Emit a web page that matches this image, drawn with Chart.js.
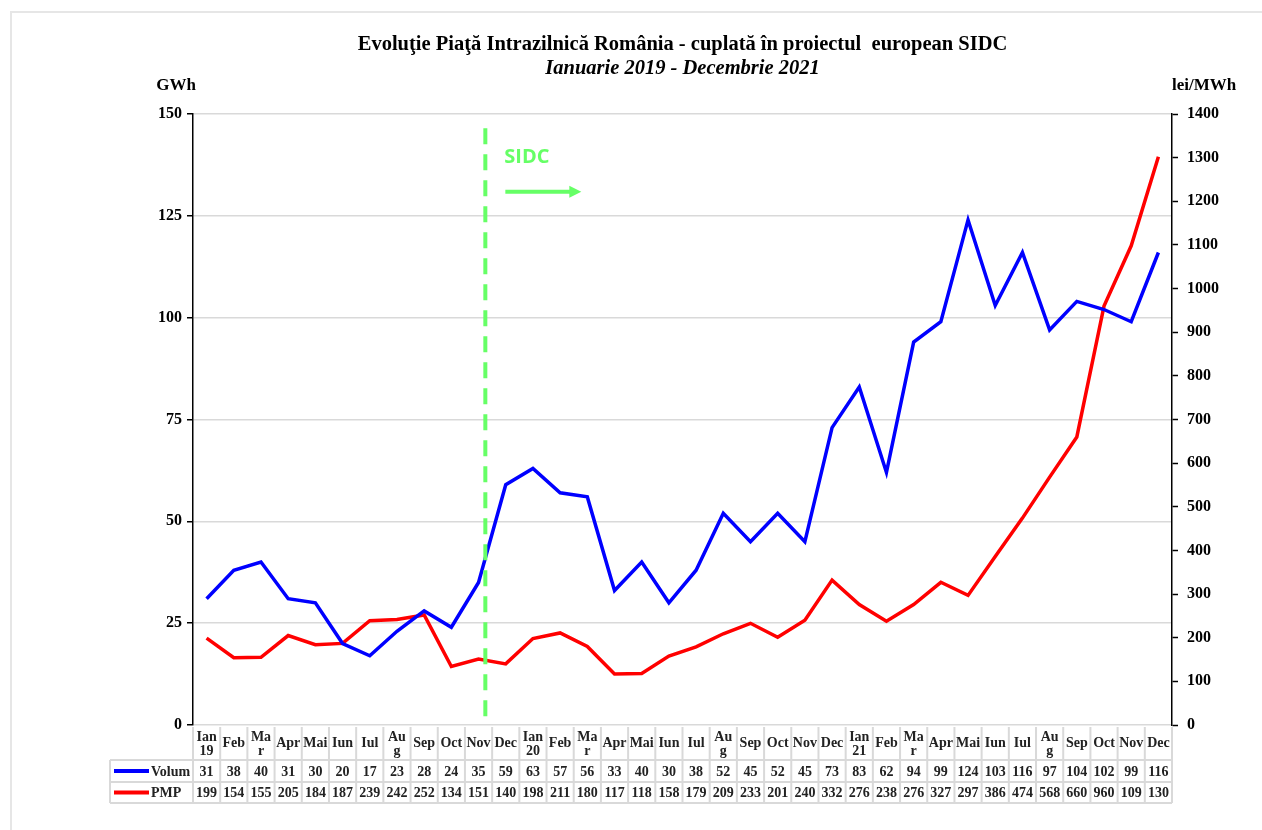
<!DOCTYPE html>
<html>
<head>
<meta charset="utf-8">
<script src="https://cdn.jsdelivr.net/npm/chart.js@4.4.1/dist/chart.umd.min.js"></script>
<style>
html, body { margin: 0; padding: 0; background: #fff; }
#wrap { position: relative; width: 1262px; height: 830px; overflow: hidden; }
#frame { position: absolute; left: 10px; top: 11px; right: -10px; bottom: -10px; border: 2px solid #e6e6e6; }
canvas { position: absolute; left: 0; top: 0; }
</style>
</head>
<body>
<div id="wrap">
  <div id="frame"></div>
  <canvas id="chart" width="1262" height="830"></canvas>
</div>
<script>
const months = [
    ['Ian', '19'], 'Feb', ['Ma', 'r'], 'Apr', 'Mai', 'Iun', 'Iul', ['Au', 'g'], 'Sep', 'Oct', 'Nov', 'Dec',
    ['Ian', '20'], 'Feb', ['Ma', 'r'], 'Apr', 'Mai', 'Iun', 'Iul', ['Au', 'g'], 'Sep', 'Oct', 'Nov', 'Dec',
    ['Ian', '21'], 'Feb', ['Ma', 'r'], 'Apr', 'Mai', 'Iun', 'Iul', ['Au', 'g'], 'Sep', 'Oct', 'Nov', 'Dec'
];

// Volum tranzactionat, GWh
const volum = [31, 38, 40, 31, 30, 20, 17, 23, 28, 24, 35, 59,
               63, 57, 56, 33, 40, 30, 38, 52, 45, 52, 45, 73,
               83, 62, 94, 99, 124, 103, 116, 97, 104, 102, 99, 116];

// Pret mediu ponderat, lei/MWh
const pmp = [199, 154, 155, 205, 184, 187, 239, 242, 252, 134, 151, 140,
             198, 211, 180, 117, 118, 158, 179, 209, 233, 201, 240, 332,
             276, 238, 276, 327, 297, 386, 474, 568, 660, 960, 1098, 1302];

const gwhTicks = { min: 0, max: 150, step: 25 };
const leiTicks = { min: 0, max: 1400, step: 100 };

const sidcIndex = 10; // Nov 2019, linia SIDC putin dupa
const titleText = 'Evoluţie Piaţă Intrazilnică România - cuplată în proiectul  european SIDC';
const subtitleText = 'Ianuarie 2019 - Decembrie 2021';

const serif = '"Liberation Serif", "Times New Roman", serif';
const green = '#66ff66';
const cellLine = '#d9d9d9';

// desenare text, tabel si adnotari
const extras = {
    id: 'extras',
    afterDatasetsDraw(chart) {
        const ctx = chart.ctx;
        const area = chart.chartArea;
        const xs = chart.scales.x;
        const yl = chart.scales.y;
        const step = xs.getPixelForValue(1) - xs.getPixelForValue(0);

        ctx.save();

        // linia SIDC
        const lx = xs.getPixelForValue(sidcIndex) + step * 0.25;
        ctx.strokeStyle = green;
        ctx.lineWidth = 4;
        ctx.setLineDash([16, 10]);
        ctx.beginPath();
        ctx.moveTo(lx, yl.getPixelForValue(146.5));
        ctx.lineTo(lx, area.bottom);
        ctx.stroke();
        ctx.setLineDash([]);

        ctx.fillStyle = green;
        ctx.font = 'bold 20px "Open Sans", sans-serif';
        ctx.textAlign = 'left';
        ctx.textBaseline = 'middle';
        ctx.fillText('SIDC', lx + 19, yl.getPixelForValue(139.3));

        const ay = yl.getPixelForValue(130.9);
        ctx.lineWidth = 4;
        ctx.beginPath();
        ctx.moveTo(lx + 20, ay);
        ctx.lineTo(lx + 86, ay);
        ctx.stroke();
        ctx.beginPath();
        ctx.moveTo(lx + 96, ay);
        ctx.lineTo(lx + 84, ay - 6);
        ctx.lineTo(lx + 84, ay + 6);
        ctx.closePath();
        ctx.fill();

        ctx.restore();
    },
    afterDraw(chart) {
        const ctx = chart.ctx;
        const area = chart.chartArea;
        const xs = chart.scales.x;
        const step = xs.getPixelForValue(1) - xs.getPixelForValue(0);

        ctx.save();
        ctx.fillStyle = '#000';
        ctx.textBaseline = 'middle';

        // titlu
        const cx = (area.left + area.right) / 2;
        ctx.textAlign = 'center';
        ctx.font = 'bold 20.5px ' + serif;
        ctx.fillText(titleText, cx, 45);
        ctx.font = 'italic bold 20.5px ' + serif;
        ctx.fillText(subtitleText, cx, 69);

        // unitati
        ctx.font = 'bold 17px ' + serif;
        ctx.textAlign = 'right';
        ctx.fillText('GWh', area.left + 3, 86);
        ctx.textAlign = 'left';
        ctx.fillText('lei/MWh', area.right, 86);

        // tabel
        const headTop = area.bottom + 2;
        const headBot = area.bottom + 35;
        const r1Bot = headBot + 22;
        const r2Bot = r1Bot + 21;
        const legLeft = 110;
        const first = xs.getPixelForValue(0) - step / 2;
        const last = xs.getPixelForValue(months.length - 1) + step / 2;

        ctx.strokeStyle = cellLine;
        ctx.lineWidth = 2;
        ctx.beginPath();
        for (let i = 0; i <= months.length; i++) {
            const x = first + i * step;
            ctx.moveTo(x, headTop);
            ctx.lineTo(x, r2Bot);
        }
        ctx.moveTo(legLeft, headBot);
        ctx.lineTo(legLeft, r2Bot);
        [headBot, r1Bot, r2Bot].forEach(y => {
            ctx.moveTo(legLeft, y);
            ctx.lineTo(last, y);
        });
        ctx.stroke();

        ctx.fillStyle = '#222';
        ctx.textAlign = 'center';
        ctx.font = 'bold 14px ' + serif;
        months.forEach((m, i) => {
            const x = xs.getPixelForValue(i);
            if (Array.isArray(m)) {
                ctx.fillText(m[0], x, headTop + 10);
                ctx.fillText(m[1], x, headTop + 24);
            } else {
                ctx.fillText(m, x, (headTop + headBot) / 2);
            }
            ctx.fillText(String(volum[i]), x, (headBot + r1Bot) / 2 + 1);
            // celula prea ingusta: valorile de 4 cifre apar taiate
            ctx.fillText(String(pmp[i]).slice(0, 3), x, (r1Bot + r2Bot) / 2 + 1);
        });

        // legenda in tabel
        const rows = [['Volum', '#0000ff', (headBot + r1Bot) / 2], ['PMP', '#ff0000', (r1Bot + r2Bot) / 2]];
        rows.forEach(([name, color, y]) => {
            ctx.strokeStyle = color;
            ctx.lineWidth = 4;
            ctx.beginPath();
            ctx.moveTo(legLeft + 4, y);
            ctx.lineTo(legLeft + 39, y);
            ctx.stroke();
            ctx.fillStyle = '#222';
            ctx.textAlign = 'left';
            ctx.fillText(name, legLeft + 41, y + 1);
        });

        ctx.restore();
    }
};

const tickFont = { family: serif, size: 16, weight: 'bold' };

new Chart(document.getElementById('chart').getContext('2d'), {
    type: 'line',
    data: {
        labels: months.map(m => Array.isArray(m) ? m.join(' ') : m),
        datasets: [
            {
                label: 'Volum',
                data: volum,
                yAxisID: 'y',
                borderColor: '#0000ff',
                borderWidth: 3.5,
                pointRadius: 0,
                tension: 0,
                fill: false
            },
            {
                label: 'PMP',
                data: pmp,
                yAxisID: 'y1',
                borderColor: '#ff0000',
                borderWidth: 3.5,
                pointRadius: 0,
                tension: 0,
                fill: false
            }
        ]
    },
    options: {
        responsive: false,
        animation: false,
        layout: { padding: { top: 114, left: 0, right: 0, bottom: 105 } },
        plugins: {
            legend: { display: false },
            tooltip: { enabled: false }
        },
        scales: {
            x: {
                offset: true,
                ticks: { display: false },
                grid: { display: false, drawTicks: false },
                border: { display: false },
                afterFit(scale) { scale.height = 0; }
            },
            y: {
                position: 'left',
                min: gwhTicks.min,
                max: gwhTicks.max,
                ticks: { stepSize: gwhTicks.step, font: tickFont, color: '#000', padding: 5, callback: v => String(v) },
                grid: { color: '#d9d9d9', lineWidth: 1.5, tickLength: 6, tickColor: '#000', tickWidth: 1.5 },
                border: { color: '#000', width: 1.5 },
                afterFit(scale) { scale.width = 193; }
            },
            y1: {
                position: 'right',
                min: leiTicks.min,
                max: leiTicks.max,
                ticks: { stepSize: leiTicks.step, font: tickFont, color: '#000', padding: 9, callback: v => String(v) },
                grid: { drawOnChartArea: false, tickLength: 6, tickColor: '#000', tickWidth: 1.5 },
                border: { color: '#000', width: 1.5 },
                afterFit(scale) { scale.width = 90; }
            }
        }
    },
    plugins: [extras]
});
</script>
</body>
</html>
